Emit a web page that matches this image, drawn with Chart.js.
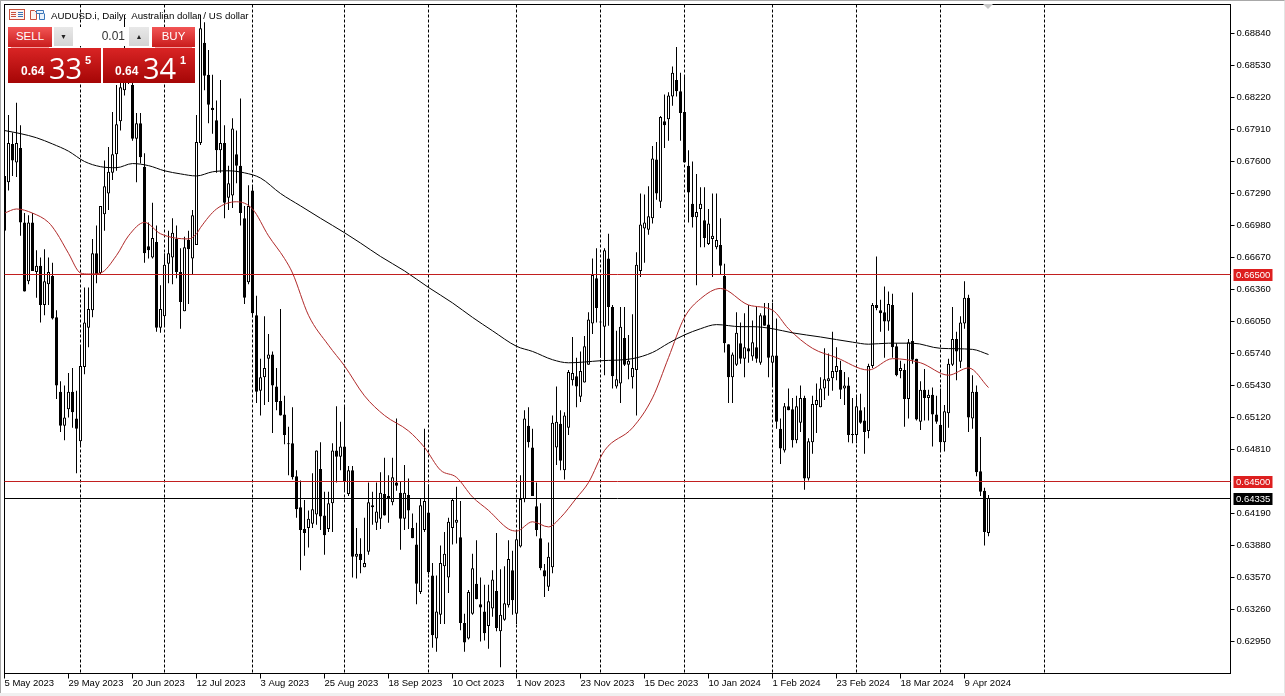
<!DOCTYPE html>
<html>
<head>
<meta charset="utf-8">
<title>AUDUSD.i, Daily</title>
<script src="https://cdn.jsdelivr.net/npm/chart.js"></script>
<style>
  html, body { margin: 0; padding: 0; background: #fff; width: 1285px; height: 696px; overflow: hidden; }
  body { position: relative; font-family: "Liberation Sans", sans-serif; }
  canvas { position: absolute; left: 0; top: 0; display: block; }
  .abs { position: absolute; }
  .edge { left: 0; top: 0; width: 1283px; height: 692px; border-left: 1px solid #a8a8a8; border-top: 1px solid #a8a8a8; border-right: 1px solid #e4e4e4; }
  .title { left: 51px; top: 10px; font-size: 9.7px; color: #000; white-space: pre; }
  .btn { top: 27px; height: 20px; color: #fff; font-size: 11.5px; text-align: center; line-height: 19px;
         background: linear-gradient(#f25555, #c91c1c); }
  .btn span { display: block; margin: 0 3px; border-bottom: 1px solid #f5a0a0; height: 20px; }
  .spin { top: 27px; height: 19px; background: linear-gradient(#e8e8e8, #d4d4d4); color: #222; text-align: center; font-size: 7px; line-height: 19px; }
  .lot { left: 73px; top: 27px; width: 52px; height: 19px; padding-right: 4px; background: #fff; color: #333;
         font-size: 12px; line-height: 19px; text-align: right; }
  .quote { top: 48px; height: 35px; background: linear-gradient(#d92424, #a50606); color: #fff; }
  .quote b { position: absolute; top: 16px; font-size: 12px; }
  .quote i { position: absolute; top: 0; font: normal 29px "Open Sans", sans-serif; }
  .quote u { position: absolute; top: 6px; font-size: 11px; font-weight: bold; text-decoration: none; }
  .marker { left: 983px; top: 4px; width: 0; height: 0; border-left: 5px solid transparent; border-right: 5px solid transparent; border-top: 5px solid #c8c8c8; }
  .foot { left: 0; top: 693px; width: 1285px; height: 3px; background: #f0f0f0; }
</style>
</head>
<body>
<canvas id="chart" width="1285" height="696"></canvas>

<div class="abs edge"></div>
<svg class="abs" style="left:9px;top:9px" width="37" height="12">
  <rect x="0.5" y="0.5" width="15" height="10" fill="#fdf3f0" stroke="#c8503c"/>
  <path d="M2 3.5h5M2 5.5h5M2 7.5h5" stroke="#c8503c"/>
  <path d="M9 3.5h5M9 5.5h5M9 7.5h5" stroke="#3a76b8"/>
  <path d="M21.5 10.5v-9h4l2 2v7z" fill="#fdf3f0" stroke="#c8503c"/>
  <path d="M27.5 1.5h7v3h-7zM30.5 4.5v6h5v-6" fill="#eaf2fb" stroke="#3a76b8"/>
</svg>
<div class="abs title">AUDUSD.i, Daily:  Australian dollar / US dollar</div>
<div class="abs marker"></div>

<div class="abs btn" style="left:8px;width:44px"><span>SELL</span></div>
<div class="abs spin" style="left:54px;width:19px">&#9660;</div>
<div class="abs lot">0.01</div>
<div class="abs spin" style="left:129px;width:20px">&#9650;</div>
<div class="abs btn" style="left:152px;width:43px"><span>BUY</span></div>
<div class="abs quote" style="left:8px;width:93px"><b style="left:13px">0.64</b><i style="left:41px">33</i><u style="left:77px">5</u></div>
<div class="abs quote" style="left:103px;width:92px"><b style="left:12px">0.64</b><i style="left:40px">34</i><u style="left:77px">1</u></div>
<div class="abs foot"></div>

<script>
// Daily candles, price x 10000, oldest first
const opens = [
  6746,6740,6777,6759,6773,6701,6644,6701,6653,6659,
  6621,6641,6649,6609,6537,6504,6520,6537,6511,6489,
  6561,6599,6616,6671,6652,6709,6729,6749,6767,6799,
  6829,6858,6834,6782,6797,6755,6678,6667,6682,6599,
  6610,6661,6667,6685,6653,6615,6684,6666,6679,6778,
  6875,6844,6812,6800,6771,6778,6725,6727,6767,6756,
  6705,6643,6732,6611,6538,6551,6569,6573,6542,6528,
  6515,6487,6487,6455,6425,6404,6405,6409,6418,6462,
  6417,6404,6429,6480,6474,6484,6438,6461,6377,6380,
  6367,6382,6427,6410,6414,6438,6434,6430,6449,6439,
  6414,6437,6405,6389,6343,6403,6420,6359,6298,6321,
  6368,6357,6405,6410,6396,6313,6298,6322,6351,6331,
  6324,6310,6327,6344,6305,6316,6330,6364,6322,6387,
  6433,6504,6483,6426,6395,6364,6348,6367,6483,6506,
  6461,6502,6548,6552,6532,6546,6563,6603,6647,6605,
  6600,6666,6619,6542,6545,6589,6563,6551,6558,6654,
  6695,6694,6705,6762,6721,6799,6801,6823,6839,6828,
  6808,6756,6719,6706,6714,6703,6680,6685,6677,6679,
  6649,6583,6551,6563,6584,6569,6579,6571,6580,6565,
  6611,6602,6565,6572,6501,6480,6523,6520,6490,6507,
  6531,6453,6488,6524,6522,6540,6547,6550,6556,6558,
  6540,6543,6495,6495,6519,6509,6499,6562,6621,6616,
  6614,6605,6621,6581,6557,6558,6530,6586,6569,6508,
  6539,6531,6534,6515,6505,6488,6516,6563,6588,6566,
  6603,6628,6511,6537,6460,6441,6400
];
const highs = [
  6790,6805,6788,6817,6795,6710,6708,6710,6674,6667,
  6675,6667,6662,6616,6547,6543,6555,6560,6538,6582,
  6638,6638,6685,6698,6717,6761,6774,6808,6834,6868,
  6902,6865,6848,6807,6807,6768,6701,6720,6698,6640,
  6671,6693,6705,6698,6676,6687,6693,6713,6805,6902,
  6895,6868,6844,6819,6839,6795,6756,6802,6790,6821,
  6717,6737,6737,6630,6569,6610,6593,6576,6560,6617,
  6533,6503,6522,6461,6451,6432,6422,6458,6480,6488,
  6440,6440,6487,6523,6508,6523,6465,6465,6405,6395,
  6415,6449,6440,6449,6459,6473,6456,6473,6511,6450,
  6466,6453,6419,6410,6433,6501,6447,6371,6359,6388,
  6401,6415,6433,6445,6431,6322,6345,6380,6393,6357,
  6350,6350,6364,6400,6365,6368,6393,6383,6403,6456,
  6519,6522,6501,6449,6429,6370,6391,6514,6542,6519,
  6517,6558,6590,6570,6576,6591,6614,6666,6676,6650,
  6676,6690,6621,6596,6619,6619,6592,6612,6672,6729,
  6728,6736,6775,6779,6804,6825,6827,6852,6871,6846,
  6842,6771,6760,6748,6735,6735,6714,6729,6729,6705,
  6661,6583,6575,6614,6604,6613,6621,6606,6619,6613,
  6623,6623,6623,6608,6511,6526,6540,6531,6533,6543,
  6533,6492,6533,6545,6551,6579,6574,6595,6580,6567,
  6556,6551,6531,6533,6535,6522,6564,6623,6668,6626,
  6639,6634,6632,6584,6567,6564,6588,6633,6569,6547,
  6559,6539,6541,6533,6540,6524,6569,6619,6595,6610,
  6644,6631,6553,6543,6493,6444,6437
];
const lows = [
  6691,6732,6746,6745,6688,6634,6641,6654,6628,6604,
  6611,6621,6607,6530,6498,6490,6512,6502,6458,6485,
  6554,6580,6609,6642,6650,6693,6713,6742,6751,6790,
  6824,6835,6780,6740,6758,6662,6666,6666,6595,6594,
  6601,6642,6641,6647,6598,6615,6622,6651,6679,6776,
  6829,6797,6787,6749,6749,6705,6713,6715,6739,6698,
  6622,6641,6609,6526,6514,6524,6527,6497,6519,6514,
  6486,6456,6452,6415,6364,6378,6386,6405,6408,6403,
  6379,6401,6401,6449,6461,6441,6436,6357,6356,6361,
  6367,6379,6408,6403,6404,6417,6410,6427,6441,6384,
  6403,6404,6395,6331,6341,6401,6360,6289,6285,6312,
  6312,6342,6389,6390,6306,6285,6297,6321,6336,6295,
  6296,6288,6319,6305,6270,6315,6328,6321,6312,6386,
  6430,6483,6436,6397,6364,6338,6344,6361,6466,6461,
  6452,6495,6543,6522,6527,6546,6563,6593,6604,6570,
  6553,6601,6540,6540,6526,6562,6549,6540,6514,6648,
  6662,6689,6700,6723,6715,6773,6780,6814,6823,6780,
  6759,6701,6696,6640,6677,6677,6679,6648,6675,6650,
  6575,6526,6526,6562,6564,6551,6565,6567,6565,6563,
  6601,6551,6543,6501,6467,6478,6519,6483,6487,6498,
  6442,6451,6477,6497,6522,6529,6533,6538,6548,6530,
  6524,6488,6487,6487,6506,6477,6492,6560,6616,6595,
  6570,6596,6570,6552,6550,6503,6511,6564,6509,6500,
  6509,6509,6484,6506,6480,6479,6502,6562,6548,6560,
  6598,6498,6501,6455,6436,6388,6397
];
const closes = [
  6693,6778,6761,6778,6701,6634,6701,6654,6659,6621,
  6644,6653,6608,6543,6504,6512,6537,6517,6501,6562,
  6604,6617,6671,6651,6717,6736,6750,6767,6796,6832,
  6858,6841,6782,6797,6764,6671,6674,6686,6599,6617,
  6660,6671,6691,6653,6624,6677,6675,6708,6779,6889,
  6843,6815,6810,6771,6778,6720,6739,6792,6756,6710,
  6628,6717,6613,6537,6551,6560,6573,6543,6527,6514,
  6495,6486,6454,6423,6403,6400,6414,6423,6480,6416,
  6398,6429,6480,6474,6484,6450,6461,6377,6380,6374,
  6371,6430,6425,6421,6439,6417,6436,6454,6446,6414,
  6439,6422,6395,6351,6427,6431,6362,6301,6324,6371,
  6380,6411,6432,6413,6313,6294,6343,6366,6336,6328,
  6303,6334,6355,6308,6321,6332,6375,6335,6394,6433,
  6511,6488,6436,6403,6366,6358,6377,6507,6508,6470,
  6514,6556,6555,6542,6557,6581,6607,6650,6618,6604,
  6674,6619,6552,6549,6600,6563,6567,6560,6660,6699,
  6701,6707,6763,6729,6803,6795,6824,6846,6828,6807,
  6759,6730,6706,6711,6719,6686,6700,6688,6684,6659,
  6584,6551,6573,6594,6569,6580,6576,6585,6569,6611,
  6601,6570,6572,6508,6482,6523,6519,6490,6523,6531,
  6453,6489,6525,6529,6540,6549,6550,6557,6562,6539,
  6543,6495,6496,6523,6507,6498,6562,6621,6618,6613,
  6605,6622,6580,6553,6560,6530,6585,6568,6510,6539,
  6531,6534,6515,6508,6488,6518,6564,6588,6576,6604,
  6628,6512,6537,6459,6440,6401,6434
];

// Moving averages at these bars
const slowBars = [0,4,8,12,16,20,24,28,32,36,40,44,48,52,56,60,64,69,74,79,85,89,94,100,106,112,117,122,128,132,137,141,149,157,162,166,170,174,178,184,187,192,197,204,212,216,221,227,234,242,246];
const slowValues = [6790,6787,6783,6777,6770,6760,6755,6754,6758,6756,6751,6748,6746,6750,6751,6749,6744,6729,6717,6705,6691,6681,6668,6654,6638,6623,6609,6596,6581,6576,6568,6565,6567,6569,6575,6584,6592,6598,6602,6600,6600,6598,6594,6590,6585,6583,6584,6584,6579,6578,6573];
const fastBars = [0,3,7,11,13,16,19,21,24,28,31,35,39,46,48,49,53,58,62,66,70,72,76,81,85,90,95,101,105,109,113,117,121,126,128,132,136,139,143,146,150,157,162,166,170,174,179,186,192,196,202,208,216,222,229,236,241,246];
const fastValues = [6710,6714,6710,6701,6691,6671,6652,6651,6652,6669,6688,6701,6690,6685,6690,6696,6714,6721,6714,6688,6666,6652,6611,6582,6562,6533,6514,6499,6483,6461,6454,6435,6422,6404,6402,6411,6406,6415,6434,6449,6480,6502,6531,6570,6609,6627,6637,6621,6616,6598,6579,6570,6558,6569,6565,6553,6560,6541];

// Horizontal levels: value and tag colour
const levelPrices = [0.665, 0.645, 0.64335];
const levelColors = ['#c21f1f', '#c21f1f', '#000000'];
const levelTagColors = ['#dd1f1f', '#dd1f1f', '#000000'];

// Axis
const priceTicks = [0.6884,0.6853,0.6822,0.6791,0.676,0.6729,0.6698,0.6667,0.6636,0.6605,0.6574,0.6543,0.6512,0.6481,0.6419,0.6388,0.6357,0.6326,0.6295];
const tickLabels = ['5 May 2023','29 May 2023','20 Jun 2023','12 Jul 2023','3 Aug 2023','25 Aug 2023','18 Sep 2023','10 Oct 2023','1 Nov 2023','23 Nov 2023','15 Dec 2023','10 Jan 2024','1 Feb 2024','23 Feb 2024','18 Mar 2024','9 Apr 2024'];
const barsPerLabel = 16;
const monthStartBars = [19,40,62,85,106,128,149,170,192,213,234,260];

const axisFont = { family: '"Liberation Sans", sans-serif', size: 9.5 };
const price = v => v / 10000;

const decorPlugin = {
  id: 'decor',
  // dashed month separators sit behind the candles
  beforeDatasetsDraw(chart) {
    const { ctx, chartArea, scales } = chart;
    ctx.save();
    ctx.strokeStyle = '#000';
    ctx.lineWidth = 1;
    ctx.setLineDash([3, 2]);
    monthStartBars.forEach(bar => {
      const x = scales.x.getPixelForValue(bar);
      ctx.beginPath();
      ctx.moveTo(x, chartArea.top);
      ctx.lineTo(x, chartArea.bottom);
      ctx.stroke();
    });
    ctx.restore();
  },
  afterDraw(chart) {
    const { ctx, chartArea, scales } = chart;
    ctx.save();
    ctx.strokeStyle = '#000';
    ctx.lineWidth = 1;
    ctx.strokeRect(chartArea.left, chartArea.top, chartArea.right - chartArea.left, chartArea.bottom - chartArea.top);

    levelPrices.forEach((level, i) => {
      const y = Math.round(scales.y.getPixelForValue(level) + 0.1) - 0.5;
      ctx.strokeStyle = levelColors[i];
      ctx.beginPath();
      ctx.moveTo(chartArea.left, y);
      ctx.lineTo(chartArea.right, y);
      ctx.stroke();

      ctx.fillStyle = levelTagColors[i];
      ctx.fillRect(chartArea.right + 3, y - 5.5, 39, 12);
      ctx.fillStyle = '#fff';
      ctx.font = '9.5px "Liberation Sans", sans-serif';
      ctx.textBaseline = 'middle';
      ctx.fillText(level.toFixed(5), chartArea.right + 5.5, y + 1);
    });
    ctx.restore();
  }
};

new Chart(document.getElementById('chart').getContext('2d'), {
  type: 'bar',
  data: {
    datasets: [
      {
        type: 'line',
        data: slowBars.map((b, i) => ({ x: b, y: price(slowValues[i]) })),
        borderColor: '#000',
        borderWidth: 1,
        pointRadius: 0,
        cubicInterpolationMode: 'monotone',
        order: 1
      },
      {
        type: 'line',
        data: fastBars.map((b, i) => ({ x: b, y: price(fastValues[i]) })),
        borderColor: '#b02a2a',
        borderWidth: 1,
        pointRadius: 0,
        cubicInterpolationMode: 'monotone',
        order: 2
      },
      {
        // candle bodies, white when the day closed up
        data: opens.map((o, i) => ({ x: i, y: [price(o), price(closes[i])] })),
        backgroundColor: opens.map((o, i) => closes[i] >= o ? '#fff' : '#000'),
        borderColor: '#000',
        borderWidth: 1,
        borderSkipped: false,
        inflateAmount: 0,
        barThickness: 3,
        grouped: false,
        order: 3
      },
      {
        // wicks
        data: lows.map((l, i) => ({ x: i, y: [price(l), price(highs[i])] })),
        backgroundColor: '#000',
        borderWidth: 0,
        inflateAmount: 0,
        barThickness: 1,
        grouped: false,
        order: 4
      }
    ]
  },
  options: {
    responsive: false,
    animation: false,
    layout: { padding: { left: 4.5, top: 4.5, right: 0, bottom: 0 } },
    plugins: { legend: { display: false }, tooltip: { enabled: false } },
    scales: {
      x: {
        type: 'linear',
        offset: false,
        min: 0,
        max: 306.5,
        grid: { offset: false, drawOnChartArea: false, tickLength: 5, color: '#000' },
        border: { color: '#000' },
        afterFit: scale => { scale.height = 22.5; scale.paddingLeft = 0; scale.paddingRight = 0; },
        afterBuildTicks: scale => {
          scale.ticks = scale.ticks.filter(t => t.value / barsPerLabel < tickLabels.length && t.value % barsPerLabel === 0);
        },
        ticks: {
          stepSize: barsPerLabel,
          autoSkip: false,
          maxRotation: 0,
          align: 'start',
          padding: -1,
          color: '#000',
          font: axisFont,
          callback: v => tickLabels[v / barsPerLabel]
        }
      },
      y: {
        position: 'right',
        min: 0.6264,
        max: 0.691209,
        grid: { drawOnChartArea: false, tickLength: 4, color: '#000' },
        border: { color: '#000' },
        afterFit: scale => { scale.width = 54.5; scale.paddingTop = 0; scale.paddingBottom = 0; },
        afterBuildTicks: scale => { scale.ticks = priceTicks.map(v => ({ value: v })); },
        ticks: {
          autoSkip: false,
          padding: 2,
          color: '#000',
          font: axisFont,
          callback: v => v.toFixed(5)
        }
      }
    }
  },
  plugins: [decorPlugin]
});
</script>
</body>
</html>
